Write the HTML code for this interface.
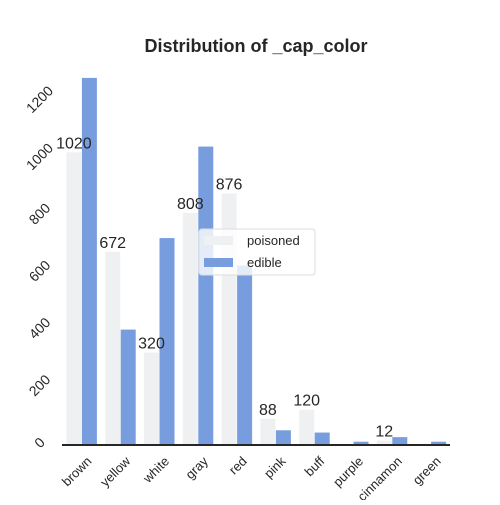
<!DOCTYPE html>
<html><head><meta charset="utf-8"><style>body{margin:0;background:#fff}svg{font-family:"Liberation Sans",sans-serif}</style></head>
<body>
<svg id="c" width="500" height="500">
<text x="256" y="52" text-anchor="middle" font-size="18" font-weight="bold" fill="#262626">Distribution of _cap_color</text>
</svg>
<script>
const categories=["brown","yellow","white","gray","red","pink","buff","purple","cinnamon","green"];
const poisoned=[1020,672,320,808,876,88,120,0,12,0];
const edible=[1280,400,720,1040,624,48,40,8,24,8];
const yTicks=[0,200,400,600,800,1000,1200];
const svg=document.getElementById('c');const NS='http://www.w3.org/2000/svg';
function mk(t,a,p){const e=document.createElementNS(NS,t);for(const k in a)e.setAttribute(k,a[k]);(p||svg).appendChild(e);return e;}
const x0=62,x1=450,base=444,k=0.286;
const y=v=>base-v*k;
const step=(x1-x0)/categories.length;
const cx=i=>x0+step*(i+0.5);
const bw=15;
yTicks.forEach(t=>{const e=mk('text',{x:0,y:0,'font-size':14,fill:'#262626','text-anchor':'middle',transform:`translate(43,${y(t)+2}) rotate(-45)`});


e.textContent=t;});
categories.forEach((c,i)=>{
 const p=mk('rect',{x:cx(i)-bw,y:y(poisoned[i]),width:bw,height:poisoned[i]*k,fill:'#eff0f2'});
 
 
 const e=mk('rect',{x:cx(i)+0.5,y:y(edible[i]),width:bw,height:edible[i]*k,fill:'#779ddf'});
 
 
 if(poisoned[i]>0){const l=mk('text',{x:cx(i)-bw/2,y:y(poisoned[i])-4,'font-size':16,fill:'#262626','text-anchor':'middle'});
 
 
 l.textContent=poisoned[i];}
 const t=mk('text',{x:0,y:0,'font-size':13,fill:'#262626','text-anchor':'end',transform:`translate(${cx(i)+11},${base+18}) rotate(-45)`});
 
 
 t.textContent=c;
});
const ax=mk('line',{x1:x0,x2:x1,y1:base+1,y2:base+1,stroke:'#262626','stroke-width':2});


const g=mk('g',{});


mk('rect',{x:199,y:229,width:116,height:46,rx:3,fill:'rgba(255,255,255,0.8)',stroke:'#ddd'},g);
mk('rect',{x:204,y:236,width:29,height:9,fill:'#eff0f2'},g);
mk('rect',{x:204,y:258,width:29,height:9,fill:'#779ddf'},g);
const t1=mk('text',{x:247,y:245,'font-size':13,fill:'#262626'},g);t1.textContent='poisoned';
const t2=mk('text',{x:247,y:267,'font-size':13,fill:'#262626'},g);t2.textContent='edible';
</script>
</body></html>
